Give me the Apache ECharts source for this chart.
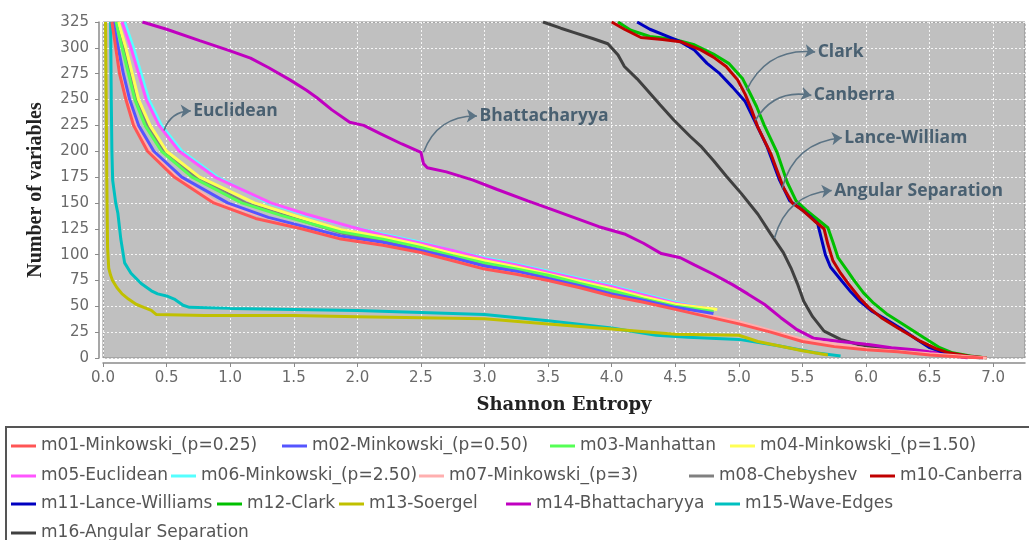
<!DOCTYPE html>
<html>
<head>
<meta charset="utf-8">
<script src="https://cdn.jsdelivr.net/npm/echarts@6/dist/echarts.min.js"></script>
<style>
  html, body { margin: 0; padding: 0; background: #fff; }
  #chart { width: 1029px; height: 540px; }
</style>
</head>
<body>
<div id="chart"></div>
<script>
// series names (legend order)
var names = [
  'm01-Minkowski_(p=0.25)', 'm02-Minkowski_(p=0.50)', 'm03-Manhattan', 'm04-Minkowski_(p=1.50)',
  'm05-Euclidean', 'm06-Minkowski_(p=2.50)', 'm07-Minkowski_(p=3)', 'm08-Chebyshev', 'm10-Canberra',
  'm11-Lance-Williams', 'm12-Clark', 'm13-Soergel', 'm14-Bhattacharyya', 'm15-Wave-Edges',
  'm16-Angular Separation'
];
var colors = ['#FF5555', '#5555FF', '#55FF55', '#FFFF55', '#FF55FF', '#55FFFF', '#FFAFAF', '#808080',
  '#C00000', '#0000C0', '#00C000', '#C0C000', '#C000C0', '#00C0C0', '#404040'];

// [entropy, number of variables]
var m01 = [[0.07,325],[0.10,300],[0.13,275],[0.18,250],[0.24,225],[0.35,200],[0.56,175],[0.87,150],[1.2,135],[1.56,125],[1.87,115],[2.2,109],[2.5,102],[2.75,94],[3.0,86],[3.25,81],[3.5,75],[3.75,68],[4.0,60],[4.25,54],[4.5,47],[4.75,40],[5.0,33],[5.25,25],[5.5,16],[5.75,11],[6.0,8],[6.25,6],[6.5,3],[6.75,1],[6.92,0]];
var m02 = [[0.08,325],[0.12,300],[0.16,275],[0.21,250],[0.28,225],[0.40,200],[0.62,175],[0.98,150],[1.3,136],[1.87,118],[2.2,112],[2.5,104],[2.75,97],[3.0,89],[3.25,84],[3.5,77],[3.75,70],[4.0,62],[4.25,56],[4.5,49],[4.8,43]];
var m03 = [[0.10,325],[0.15,300],[0.20,275],[0.25,250],[0.33,225],[0.46,200],[0.70,175],[1.09,150],[1.4,138],[1.87,122],[2.2,115],[2.5,107],[2.75,99],[3.0,92],[3.25,86],[3.5,80],[3.75,72],[4.0,65],[4.25,57],[4.5,50],[4.8,45]];
var m04 = [[0.12,325],[0.18,300],[0.23,275],[0.28,250],[0.37,225],[0.50,200],[0.76,175],[1.19,150],[1.5,138],[1.87,124],[2.2,117],[2.5,109],[2.75,101],[3.0,94],[3.25,88],[3.5,81],[3.75,74],[4.0,67],[4.25,59],[4.5,52],[4.83,47]];
var m05 = [[0.15,325],[0.22,300],[0.28,275],[0.34,250],[0.44,225],[0.60,200],[0.88,175],[1.32,150],[1.6,139],[1.95,127],[2.2,119],[2.5,111],[2.75,104],[3.0,96],[3.25,90],[3.5,83],[3.75,76],[4.0,69],[4.25,61],[4.5,53],[4.8,47]];
var m06 = [[0.17,325],[0.24,300],[0.30,275],[0.36,250],[0.46,225],[0.62,200],[0.90,175],[1.30,150],[1.6,138],[1.95,127],[2.2,120],[2.5,112],[2.75,104],[3.0,97],[3.25,91],[3.5,84],[3.75,77],[4.0,70],[4.25,62],[4.5,54],[4.75,48]];
var m07 = [[0.08,325],[0.11,300],[0.14,275],[0.19,250],[0.26,225],[0.37,200],[0.58,175],[0.90,150],[1.6,125],[1.9,117],[2.5,104],[3.0,88],[3.5,77],[4.0,62],[4.5,48],[5.0,35],[5.5,18],[6.0,9],[6.5,4],[6.95,0]];
var m08 = [[0.11,325],[0.16,300],[0.21,275],[0.26,250],[0.35,225],[0.48,200],[0.73,175],[1.12,150],[1.87,121],[2.5,106],[3.0,91],[3.5,79],[4.0,64],[4.5,50],[4.8,45]];
var m10 = [[4.0,325],[4.1,318],[4.23,310],[4.4,308],[4.54,306],[4.7,298],[4.8,291],[4.9,282],[4.99,269],[5.05,255],[5.1,240],[5.15,223],[5.25,198],[5.35,165],[5.42,150],[5.5,143],[5.59,133],[5.67,125],[5.7,110],[5.74,94],[5.8,82],[5.86,72],[5.95,58],[6.02,49],[6.12,39],[6.25,29],[6.43,16],[6.55,9],[6.65,5],[6.8,2],[6.95,0]];
var m11 = [[4.2,325],[4.3,318],[4.42,312],[4.54,306],[4.65,298],[4.75,285],[4.85,275],[4.95,262],[5.05,248],[5.13,228],[5.22,205],[5.32,172],[5.4,152],[5.48,145],[5.56,137],[5.62,130],[5.65,115],[5.68,100],[5.72,88],[5.8,76],[5.88,64],[5.95,55],[6.05,45],[6.15,38],[6.28,28],[6.4,18],[6.5,10],[6.62,5],[6.78,2],[6.92,0]];
var m12 = [[4.05,325],[4.15,317],[4.3,311],[4.5,308],[4.65,303],[4.8,294],[4.92,285],[5.03,270],[5.08,258],[5.14,243],[5.2,225],[5.3,199],[5.38,170],[5.45,152],[5.53,143],[5.62,134],[5.7,126],[5.74,112],[5.78,97],[5.85,85],[5.9,76],[5.98,63],[6.06,53],[6.17,42],[6.3,32],[6.45,20],[6.58,10],[6.68,5],[6.82,2],[6.95,0]];
var m13 = [[0.02,325],[0.025,250],[0.03,172],[0.033,140],[0.036,107],[0.045,87],[0.06,80],[0.075,75],[0.11,68],[0.15,62],[0.2,57],[0.26,52],[0.32,49],[0.38,46],[0.42,42],[0.8,41],[1.5,41],[2.0,40],[2.5,39],[3.0,38],[3.5,33],[4.0,28],[4.5,23],[5.0,22],[5.15,16],[5.5,7],[5.7,3]];
var m14 = [[0.31,325],[0.5,318],[0.76,307],[1.0,297],[1.16,290],[1.3,281],[1.47,269],[1.6,259],[1.68,252],[1.8,240],[1.94,228],[2.05,225],[2.18,217],[2.35,207],[2.5,199],[2.52,188],[2.55,184],[2.7,180],[2.91,172],[3.1,163],[3.34,152],[3.5,145],[3.7,136],[3.9,127],[4.1,120],[4.25,111],[4.39,101],[4.54,97],[4.65,90],[4.8,81],[4.95,71],[5.07,62],[5.2,52],[5.33,39],[5.45,28],[5.59,19],[5.8,16],[6.02,13],[6.2,10],[6.38,8],[6.55,5],[6.65,3],[6.8,0]];
var m15 = [[0.06,325],[0.065,250],[0.07,200],[0.076,172],[0.1,150],[0.117,140],[0.14,115],[0.17,92],[0.22,82],[0.3,72],[0.38,65],[0.43,62],[0.5,60],[0.56,57],[0.63,51],[0.68,49],[1.0,48],[1.5,47],[2.0,46],[2.5,44],[3.0,42],[3.5,36],[4.0,29],[4.35,22],[4.6,20],[5.0,18],[5.3,12],[5.6,5],[5.8,2]];
var m16 = [[3.46,325],[3.6,319],[3.7,315],[3.85,309],[3.97,304],[4.05,293],[4.1,282],[4.2,270],[4.28,259],[4.38,245],[4.49,230],[4.62,214],[4.7,205],[4.8,191],[4.9,176],[5.02,159],[5.15,139],[5.25,120],[5.35,102],[5.41,87],[5.46,72],[5.51,55],[5.58,40],[5.67,26],[5.8,18],[5.94,13],[6.1,10],[6.33,7],[6.55,4],[6.75,2],[6.9,0]];
var seriesData = [m01, m02, m03, m04, m05, m06, m07, m08, m10, m11, m12, m13, m14, m15, m16];

// callouts: text, point on curve, arrow tip
var noteText = ['Euclidean', 'Bhattacharyya', 'Clark', 'Canberra', 'Lance-William', 'Angular Separation'];
var noteFrom = [[0.48,220],[2.52,199],[5.06,259],[5.13,230],[5.34,164],[5.28,116]];
var noteTo = [[0.69,239],[2.94,234],[5.6,296],[5.57,254],[5.81,213],[5.73,162]];

// legend layout: rows of [series index, left px]
var legendRows = [
  [[0, 11], [1, 282], [2, 550], [3, 730]],
  [[4, 11], [5, 171], [6, 419], [7, 689], [8, 870]],
  [[9, 11], [10, 217], [11, 339], [12, 506], [13, 715]],
  [[14, 11]]
];
var legendTops = [436, 466, 494, 523];

var chart = echarts.init(document.getElementById('chart'));

var series = [];
// first series drawn last (on top), as in the original plot
for (var i = seriesData.length - 1; i >= 0; i--) {
  series.push({
    name: names[i],
    type: 'line',
    data: seriesData[i],
    showSymbol: false,
    symbol: 'none',
    color: colors[i],
    lineStyle: { width: 3, color: colors[i] },
    emphasis: { disabled: true }
  });
}

var noteLines = [];
var noteLabels = [];
for (var k = 0; k < noteText.length; k++) {
  noteLines.push({ coords: [noteFrom[k], noteTo[k]] });
  noteLabels.push({ value: noteTo[k], name: noteText[k] });
}
series.push({
  name: 'arrows',
  type: 'lines',
  coordinateSystem: 'cartesian2d',
  data: noteLines,
  symbol: ['none', 'arrow'],
  symbolSize: 10,
  silent: true,
  z: 5,
  lineStyle: { color: '#5B7384', width: 1.6, opacity: 1, curveness: 0.35 }
});
series.push({
  name: 'notes',
  type: 'scatter',
  data: noteLabels,
  symbolSize: 1,
  itemStyle: { color: 'rgba(0,0,0,0)' },
  silent: true,
  z: 6,
  label: {
    show: true,
    position: 'right',
    distance: 2,
    formatter: '{b}',
    color: '#2B475C',
    fontFamily: 'Open Sans',
    fontWeight: 'bold',
    fontSize: 17.5
  }
});

var legends = [];
legendRows.forEach(function (row, r) {
  row.forEach(function (item) {
    legends.push({
      data: [names[item[0]]],
      left: item[1],
      top: legendTops[r],
      padding: 0,
      icon: 'rect',
      itemWidth: 25,
      itemHeight: 3,
      selectedMode: false,
      textStyle: { color: '#555', fontFamily: 'DejaVu Sans', fontSize: 17, lineHeight: 20 }
    });
  });
});

var option = {
  animation: false,
  backgroundColor: '#fff',
  grid: {
    left: 103, right: 4, top: 22, bottom: 182,
    show: true,
    backgroundColor: '#C0C0C0',
    borderColor: '#8a8a8a',
    borderWidth: 1
  },
  legend: legends,
  xAxis: {
    type: 'value',
    min: 0, max: 7.25, interval: 0.5,
    offset: 5,
    name: 'Shannon Entropy',
    nameLocation: 'middle',
    nameGap: 33,
    nameTextStyle: { fontFamily: 'DejaVu Serif', fontWeight: 'bold', fontSize: 18, color: '#222' },
    axisLine: { show: true, onZero: false, lineStyle: { color: '#8a8a8a', width: 1.5 } },
    axisTick: { show: true, length: 4, lineStyle: { color: '#8a8a8a' } },
    axisLabel: {
      margin: 8, color: '#6a6a6a', fontFamily: 'DejaVu Sans', fontSize: 15,
      showMaxLabel: false,
      formatter: function (v) { return v.toFixed(1); }
    },
    splitLine: { show: true, lineStyle: { color: 'rgba(255,255,255,0.85)', type: [2, 2], width: 1 } }
  },
  yAxis: {
    type: 'value',
    min: 0, max: 325, interval: 25,
    offset: 4,
    name: 'Number of variables',
    nameLocation: 'middle',
    nameGap: 53,
    nameTextStyle: { fontFamily: 'Liberation Serif', fontWeight: 'bold', fontSize: 20, color: '#222' },
    axisLine: { show: true, onZero: false, lineStyle: { color: '#8a8a8a', width: 1.5 } },
    axisTick: { show: true, length: 4, lineStyle: { color: '#8a8a8a' } },
    axisLabel: { margin: 10, color: '#6a6a6a', fontFamily: 'DejaVu Sans', fontSize: 15 },
    splitLine: { show: true, lineStyle: { color: 'rgba(255,255,255,0.85)', type: [2, 2], width: 1 } }
  },
  graphic: [{
    type: 'rect',
    shape: { x: 6, y: 427, width: 1100, height: 200 },
    style: { fill: 'none', stroke: '#555', lineWidth: 2 },
    silent: true
  }],
  series: series
};

chart.setOption(option);
</script>
</body>
</html>
